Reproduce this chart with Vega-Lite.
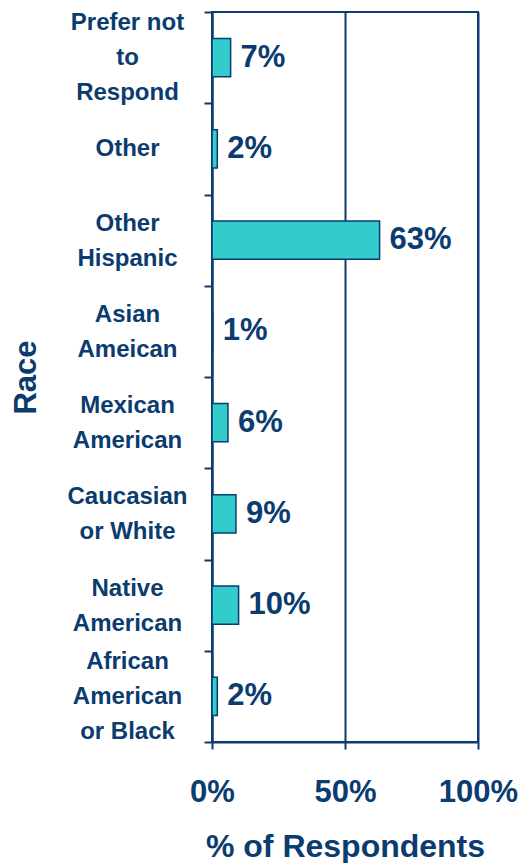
{
  "$schema": "https://vega.github.io/schema/vega-lite/v6.json",
  "width": 266,
  "height": 730,
  "autosize": {"type": "none"},
  "padding": {"left": 212, "top": 12, "right": 52, "bottom": 121},
  "background": "white",
  "config": {
    "view": {"stroke": "#0B3B6F", "strokeWidth": 2},
    "font": "Liberation Sans"
  },
  "data": {
    "values": [
      {"race": "Prefer not|to|Respond", "pct": 7, "label": "7%"},
      {"race": "Other", "pct": 2, "label": "2%"},
      {"race": "Other|Hispanic", "pct": 63, "label": "63%"},
      {"race": "Asian|Ameican", "pct": 0.3, "label": "1%"},
      {"race": "Mexican|American", "pct": 6, "label": "6%"},
      {"race": "Caucasian|or White", "pct": 9, "label": "9%"},
      {"race": "Native|American", "pct": 10, "label": "10%"},
      {"race": "African|American|or Black", "pct": 2, "label": "2%"}
    ]
  },
  "encoding": {
    "y": {
      "field": "race",
      "type": "nominal",
      "sort": null,
      "scale": {"paddingInner": 0, "paddingOuter": 0},
      "axis": {
        "title": "Race",
        "titleFont": "Liberation Sans",
        "titleFontSize": 31,
        "titleFontWeight": "bold",
        "titleColor": "#0B3B6F",
        "titleAngle": -90,
        "titleX": -186,
        "titleY": 365,
        "titleAlign": "center",
        "titleBaseline": "middle",
        "labelExpr": "split(datum.label, '|')",
        "labelAlign": "center",
        "labelBaseline": "middle",
        "labelPadding": 77,
        "labelOffset": {
          "condition": [
            {"test": "indexof(datum.label, 'Prefer') >= 0 || indexof(datum.label, 'African') >= 0", "value": -35},
            {"test": "indexof(datum.label, '|') >= 0", "value": -17}
          ],
          "value": 0
        },
        "labelFont": "Liberation Sans",
        "labelFontSize": 24,
        "labelFontWeight": "bold",
        "labelLineHeight": 35,
        "labelColor": "#0B3B6F",
        "labelLimit": 400,
        "tickBand": "extent",
        "tickSize": 8,
        "tickColor": "#0B3B6F",
        "tickWidth": 2,
        "domainColor": "#0B3B6F",
        "domainWidth": 2,
        "grid": false
      }
    }
  },
  "layer": [
    {
      "mark": {
        "type": "bar",
        "fill": "#33CCCC",
        "stroke": "#0B3B6F",
        "strokeWidth": 1.5,
        "height": {"band": 0.42}
      },
      "encoding": {
        "x": {
          "field": "pct",
          "type": "quantitative",
          "scale": {"domain": [0, 100]},
          "axis": {
            "values": [0, 50, 100],
            "labelExpr": "datum.value + '%'",
            "grid": true,
            "gridColor": "#0B3B6F",
            "gridWidth": 2,
            "gridOpacity": 1,
            "domainColor": "#0B3B6F",
            "domainWidth": 2,
            "tickColor": "#0B3B6F",
            "tickWidth": 2,
            "tickSize": 7,
            "labelFont": "Liberation Sans",
            "labelFontSize": 31,
            "labelFontWeight": "bold",
            "labelColor": "#0B3B6F",
            "labelPadding": 52,
            "labelBaseline": "alphabetic",
            "labelFlush": false,
            "title": "% of Respondents",
            "titleFont": "Liberation Sans",
            "titleFontSize": 32,
            "titleFontWeight": "bold",
            "titleColor": "#0B3B6F",
            "titleBaseline": "alphabetic",
            "titleY": 114
          }
        }
      }
    },
    {
      "mark": {
        "type": "text",
        "align": "left",
        "baseline": "middle",
        "dx": 10,
        "font": "Liberation Sans",
        "fontSize": 31,
        "fontWeight": "bold",
        "color": "#0B3B6F"
      },
      "encoding": {
        "x": {"field": "pct", "type": "quantitative"},
        "text": {"field": "label"}
      }
    }
  ]
}
